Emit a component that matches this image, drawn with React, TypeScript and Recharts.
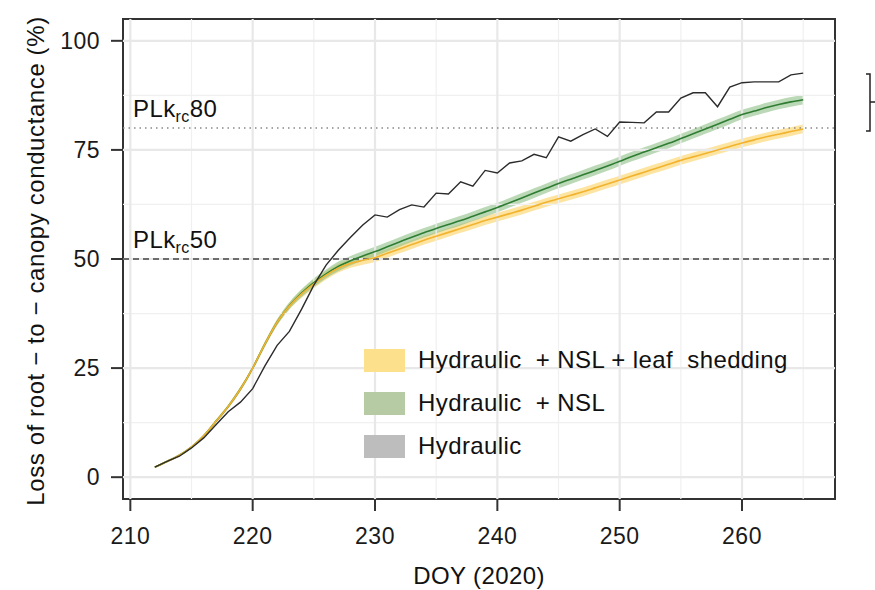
import React from 'react';
import {
  ComposedChart,
  Area,
  Line,
  XAxis,
  YAxis,
  ReferenceLine,
  ReferenceArea,
} from 'recharts';

// DOY 212..265
const days = [
  212, 213, 214, 215, 216, 217, 218, 219, 220, 221,
  222, 223, 224, 225, 226, 227, 228, 229, 230, 231,
  232, 233, 234, 235, 236, 237, 238, 239, 240, 241,
  242, 243, 244, 245, 246, 247, 248, 249, 250, 251,
  252, 253, 254, 255, 256, 257, 258, 259, 260, 261,
  262, 263, 264, 265,
];

// Hydraulic + NSL + leaf shedding
const shed = [
  2.3, 3.6, 5.0, 6.9, 9.5, 12.8, 16.2, 20.2, 25.0, 30.5,
  35.5, 39.2, 42.0, 44.3, 46.3, 47.9, 49.0, 49.7, 50.3, 51.3,
  52.3, 53.3, 54.3, 55.2, 56.1, 57.0, 57.9, 58.8, 59.6, 60.4,
  61.2, 62.1, 63.0, 63.8, 64.6, 65.4, 66.3, 67.2, 68.1, 69.0,
  69.9, 70.8, 71.7, 72.6, 73.4, 74.2, 75.0, 75.8, 76.6, 77.3,
  78.0, 78.6, 79.2, 79.8,
];
const shedSpread = [
  0.2, 0.2, 0.3, 0.3, 0.3, 0.4, 0.4, 0.5, 0.5, 0.6,
  0.7, 0.8, 0.9, 1.0, 1.0, 1.0, 1.0, 1.0, 1.0, 1.0,
  1.0, 1.0, 1.0, 1.0, 1.0, 1.0, 1.0, 1.0, 1.0, 1.0,
  1.0, 1.0, 1.0, 1.0, 1.0, 1.0, 1.0, 1.0, 1.0, 1.0,
  1.0, 1.0, 1.0, 1.0, 1.0, 1.0, 1.0, 1.0, 1.0, 1.0,
  1.0, 1.0, 1.0, 1.0,
];

// Hydraulic + NSL
const nsl = [
  2.3, 3.6, 5.0, 6.9, 9.5, 12.8, 16.2, 20.2, 25.0, 30.5,
  35.5, 39.3, 42.2, 44.6, 46.6, 48.3, 49.6, 50.7, 51.7, 52.8,
  53.9, 55.0, 56.0, 57.0, 57.9, 58.8, 59.8, 60.8, 61.8, 62.9,
  64.0, 65.1, 66.2, 67.3, 68.3, 69.3, 70.3, 71.3, 72.4, 73.5,
  74.5, 75.5, 76.5, 77.6, 78.7, 79.8, 80.9, 82.0, 83.1, 83.9,
  84.7, 85.4, 86.0, 86.5,
];
const nslSpread = [
  0.2, 0.2, 0.3, 0.3, 0.3, 0.4, 0.4, 0.5, 0.5, 0.6,
  0.7, 0.8, 0.9, 1.0, 1.0, 1.1, 1.1, 1.1, 1.1, 1.1,
  1.1, 1.1, 1.1, 1.1, 1.1, 1.1, 1.1, 1.1, 1.1, 1.1,
  1.1, 1.1, 1.1, 1.1, 1.1, 1.1, 1.1, 1.1, 1.1, 1.1,
  1.1, 1.1, 1.1, 1.1, 1.1, 1.1, 1.1, 1.1, 1.1, 1.1,
  1.1, 1.1, 1.1, 1.1,
];

// Hydraulic
const hydraulic = [
  2.3, 3.6, 4.8, 6.7, 9.0, 12.0, 15.0, 17.2, 20.3, 25.5,
  30.2, 33.4, 38.5, 44.0, 48.6, 52.0, 55.0, 57.8, 60.1, 59.6,
  61.3, 62.4, 61.9, 65.1, 64.9, 67.7, 66.7, 70.3, 69.7, 72.0,
  72.5, 74.0, 73.2, 78.0, 77.0, 78.5, 79.8, 78.1, 81.4, 81.3,
  81.2, 83.7, 83.7, 86.9, 88.1, 88.1, 84.9, 89.4, 90.4, 90.6,
  90.6, 90.6, 92.2, 92.6,
];

const xTicks = [210, 220, 230, 240, 250, 260];
const xMinor = [215, 225, 235, 245, 255, 265];
const yTicks = [0, 25, 50, 75, 100];
const yMinor = [12.5, 37.5, 62.5, 87.5];

const legendItems = [
  { label: 'Hydraulic  + NSL + leaf  shedding', color: '#fde08c' },
  { label: 'Hydraulic  + NSL', color: '#b6cba3' },
  { label: 'Hydraulic', color: '#bdbdbd' },
];

const data = days.map((d, i) => ({
  day: d,
  shed: shed[i],
  nsl: nsl[i],
  hydraulic: hydraulic[i],
  shedBand: [shed[i] - shedSpread[i], shed[i] + shedSpread[i]],
  nslBand: [nsl[i] - nslSpread[i], nsl[i] + nslSpread[i]],
}));

const FONT = '"Liberation Sans", Arial, sans-serif';

const PlkLabel = ({ viewBox, num }: any) => {
  if (!viewBox) return null;
  return (
    <text x={viewBox.x + 10} y={viewBox.y - 11} fontSize={24} fill="#111" fontFamily={FONT} letterSpacing={0.4}>
      PLk
      <tspan fontSize={16} dy={5}>rc</tspan>
      <tspan fontSize={24} dy={-5}>{num}</tspan>
    </text>
  );
};

const YTitle = () => (
  <text
    x={35}
    y={261}
    transform="rotate(-90, 35, 261)"
    textAnchor="middle"
    dominantBaseline="central"
    fontSize={24}
    letterSpacing={0.6}
    fill="#111"
    fontFamily={FONT}
  >
    Loss of root − to − canopy conductance (%)
  </text>
);

const XTitle = () => (
  <text x={479} y={584} textAnchor="middle" fontSize={24} letterSpacing={0.4} fill="#111" fontFamily={FONT}>
    DOY (2020)
  </text>
);

const App = () => {
  return (
    <div style={{ position: 'absolute', left: 0, top: 0, width: 875, height: 590, background: '#fff' }}>
      <ComposedChart
        width={875}
        height={590}
        data={data}
        margin={{ top: 19, right: 40, left: 0, bottom: 0 }}
        style={{ fontFamily: FONT }}
      >
        <XAxis
          dataKey="day"
          type="number"
          domain={[209.4, 267.6]}
          ticks={xTicks}
          allowDataOverflow
          height={91}
          tickSize={12}
          tickMargin={17}
          axisLine={false}
          tickLine={{ stroke: '#333', strokeWidth: 2 }}
          tick={{ fill: '#1a1a1a', fontSize: 23, letterSpacing: 0.5 }}
          label={<XTitle />}
        />
        <YAxis
          type="number"
          domain={[-5, 105]}
          ticks={yTicks}
          allowDataOverflow
          width={123}
          tickSize={12}
          tickMargin={11}
          axisLine={false}
          tickLine={{ stroke: '#333', strokeWidth: 2 }}
          tick={{ fill: '#1a1a1a', fontSize: 23, letterSpacing: 0.5 }}
          label={<YTitle />}
        />

        {xMinor.map((v) => (
          <ReferenceLine key={`xm${v}`} x={v} stroke="#f0f0f0" strokeWidth={1.2} />
        ))}
        {yMinor.map((v) => (
          <ReferenceLine key={`ym${v}`} y={v} stroke="#f0f0f0" strokeWidth={1.2} />
        ))}
        {xTicks.map((v) => (
          <ReferenceLine key={`x${v}`} x={v} stroke="#e8e8e8" strokeWidth={2.2} />
        ))}
        {yTicks.map((v) => (
          <ReferenceLine key={`y${v}`} y={v} stroke="#e8e8e8" strokeWidth={2.2} />
        ))}

        <ReferenceLine
          y={80}
          stroke="#888"
          strokeWidth={1.5}
          strokeDasharray="1.5 4"
          label={<PlkLabel num="80" />}
        />
        <ReferenceLine
          y={50}
          stroke="#444"
          strokeWidth={1.4}
          strokeDasharray="6 4"
          label={<PlkLabel num="50" />}
        />

        <Area
          dataKey="shedBand"
          type="monotone"
          stroke="none"
          fill="#fcd56e"
          fillOpacity={0.65}
          isAnimationActive={false}
        />
        <Area
          dataKey="nslBand"
          type="monotone"
          stroke="none"
          fill="#8dbf86"
          fillOpacity={0.6}
          isAnimationActive={false}
        />
        <Line
          dataKey="nsl"
          type="monotone"
          stroke="#2e7d32"
          strokeWidth={1.6}
          dot={false}
          isAnimationActive={false}
        />
        <Line
          dataKey="shed"
          type="monotone"
          stroke="#f2b32e"
          strokeWidth={1.6}
          dot={false}
          isAnimationActive={false}
        />
        <Line
          dataKey="hydraulic"
          type="linear"
          stroke="#2b2b2b"
          strokeWidth={1.4}
          dot={false}
          isAnimationActive={false}
        />

        <ReferenceArea
          x1={209.4}
          x2={267.6}
          y1={-5}
          y2={105}
          fill="none"
          stroke="#333"
          strokeWidth={2}
          ifOverflow="visible"
        />
      </ComposedChart>

      <div style={{ position: 'absolute', left: 364, top: 339, fontFamily: FONT }}>
        {legendItems.map((item) => (
          <div key={item.label} style={{ display: 'flex', alignItems: 'center', height: 42, marginBottom: 1 }}>
            <div style={{ width: 41, height: 23, background: item.color }} />
            <span style={{ marginLeft: 13, fontSize: 24, letterSpacing: 0.4, color: '#111', whiteSpace: 'pre' }}>
              {item.label}
            </span>
          </div>
        ))}
      </div>

      <svg style={{ position: 'absolute', left: 0, top: 0 }} width={875} height={590}>
        <path d="M866 74 H870 V131 H866 M870 102 H875" fill="none" stroke="#222" strokeWidth={1.5} />
      </svg>
    </div>
  );
};

export default App;
